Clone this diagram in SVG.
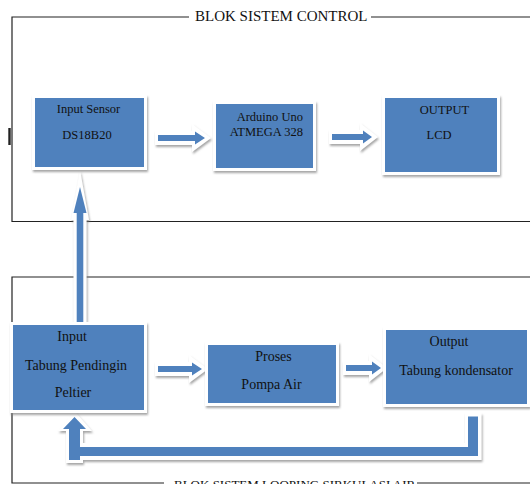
<svg xmlns="http://www.w3.org/2000/svg" width="530" height="484" viewBox="0 0 530 484">
<defs>
<filter id="sh" x="-20%" y="-20%" width="140%" height="140%">
<feDropShadow dx="1" dy="2" stdDeviation="1" flood-color="#7f7f7f" flood-opacity="0.7"/>
</filter>
<style>
.frame{fill:none;stroke:#222;stroke-width:1.2}
.title{font-family:"Liberation Serif","Times New Roman",serif;font-size:15px;fill:#111}
.title2{font-family:"Liberation Serif","Times New Roman",serif;font-size:13px;fill:#111}
.outer{fill:#fff;filter:url(#sh)}
.blue{fill:#4F81BD}
.t1{font-family:"Liberation Serif","Times New Roman",serif;font-size:12.5px;fill:#111;text-anchor:middle}
.t2{font-family:"Liberation Serif","Times New Roman",serif;font-size:14px;fill:#111;text-anchor:middle}
</style>
</defs>
<rect width="530" height="484" fill="#fff"/>
<g id="frames">
<path class="frame" d="M189,17 H12 V221.5 H530"/>
<path class="frame" d="M371,17 H530"/>
<text class="title" x="195" y="21">BLOK SISTEM CONTROL</text>
<path class="frame" d="M530,277 H12 V483 H164"/>
<path class="frame" d="M417,483 H530"/>
<text class="title2" x="174" y="489">BLOK SISTEM LOOPING SIRKULASI AIR</text>
<rect x="8.3" y="128" width="2.4" height="17" fill="#222"/>
</g>
<g id="connectors">
<g id="a1"><path class="outer" d="M155,131 H192 V124 L211,138 L192,152 V145 H155 Z"/><path class="blue" d="M158,135 H195 V131.5 L205,138 L195,144.5 V141 H158 Z"/></g>
<g id="a2"><path class="outer" d="M329,130 H360 V123 L378,137 L360,151 V144 H329 Z"/><path class="blue" d="M332,134 H363 V130.5 L372,137 L363,143.5 V140 H332 Z"/></g>
<g id="a3"><path class="outer" d="M155,362 H189 V355 L208,369 L189,383 V376 H155 Z"/><path class="blue" d="M158,366 H192 V362.5 L202,369 L192,375.5 V372 H158 Z"/></g>
<g id="a4"><path class="outer" d="M343,361 H369 V354 L387,368 L369,382 V375 H343 Z"/><path class="blue" d="M346,365 H372 V361.5 L381,368 L372,374.5 V371 H346 Z"/></g>
<g id="a5"><path class="outer" d="M80,170 L89,220 H86.5 V325 H73.5 V220 H71 Z"/><path class="blue" d="M80,187 L86.5,213 H83.3 V325 H76.7 V213 H73.5 Z"/></g>
<g id="loop"><path class="outer" d="M74.5,411 L92,431 H83 V443 H465 V413 H481.5 V460 H83 V463 H66 V431 H58 Z"/><path class="blue" d="M74.5,417 L86,429 H80 V447 H468 V416.5 H478 V456 H80 V460 H69 V429 H63 Z"/></g>
</g>
<g id="n1"><rect class="outer" x="32" y="95" width="115" height="75"/><rect class="blue" x="35" y="98" width="109" height="69"/>
<text class="t1" x="88.5" y="113">Input Sensor</text><text class="t1" x="87" y="139">DS18B20</text></g>
<g id="n2"><rect class="outer" x="213" y="101" width="103" height="70"/><rect class="blue" x="216" y="104" width="97" height="64"/>
<text class="t1" x="303" y="121" style="text-anchor:end">Arduino Uno</text><text class="t1" x="303" y="136" style="text-anchor:end">ATMEGA 328</text></g>
<g id="n3"><rect class="outer" x="382" y="95" width="118" height="80"/><rect class="blue" x="385" y="98" width="112" height="74"/>
<text class="t1" x="444.5" y="114">OUTPUT</text><text class="t1" x="439" y="139">LCD</text></g>
<g id="n4"><rect class="outer" x="10" y="322" width="137" height="91"/><rect class="blue" x="13" y="325" width="131" height="85"/>
<text class="t2" x="72" y="341">Input</text><text class="t2" x="76" y="370">Tabung Pendingin</text><text class="t2" x="73" y="397">Peltier</text></g>
<g id="n5"><rect class="outer" x="205" y="342" width="134" height="64"/><rect class="blue" x="208" y="345" width="128" height="58"/>
<text class="t2" x="273.5" y="361">Proses</text><text class="t2" x="271.5" y="389">Pompa Air</text></g>
<g id="n6"><rect class="outer" x="383" y="327" width="147" height="80"/><rect class="blue" x="386" y="330" width="141" height="74"/>
<text class="t2" x="449" y="346">Output</text><text class="t2" x="456" y="375">Tabung kondensator</text></g>
</svg>
